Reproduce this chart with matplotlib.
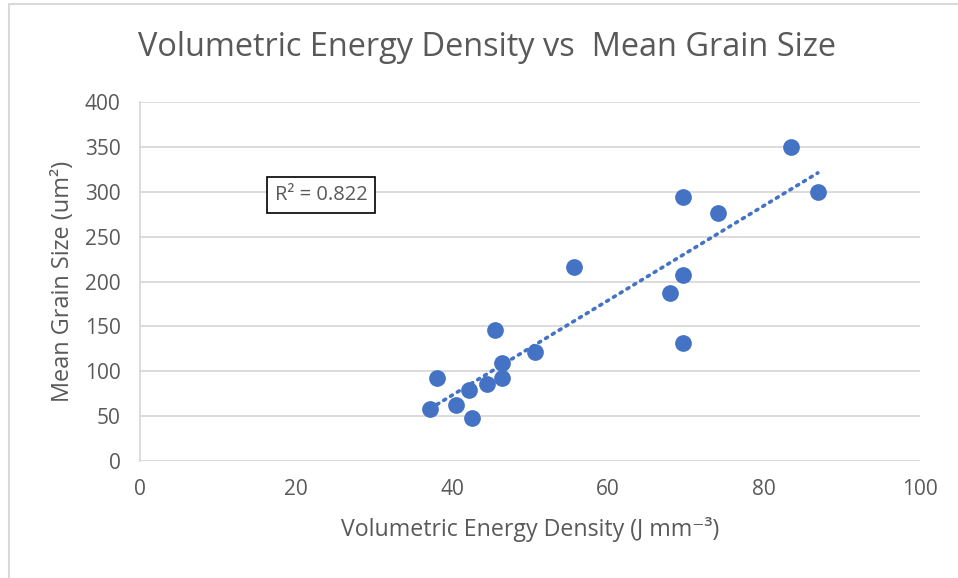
import numpy as np
import matplotlib
matplotlib.use('Agg')
import matplotlib.pyplot as plt
from matplotlib.patches import Rectangle

# energy density (J mm^-3) vs mean grain size (um^2)
energy = [37.2, 38.1, 40.5, 42.2, 42.6, 44.5, 45.5, 46.4, 46.4, 50.6,
          55.6, 67.9, 69.6, 69.6, 69.6, 74.1, 83.5, 86.9]
grain = [58, 92, 62, 79, 48, 86, 146, 109, 92, 121,
         216, 187, 294, 207, 131, 276, 350, 300]
x_ticks = [0, 20, 40, 60, 80, 100]
y_ticks = [0, 50, 100, 150, 200, 250, 300, 350, 400]

blue = '#4472C4'
grey = '#595959'
plt.rcParams['font.family'] = ['Open Sans', 'DejaVu Sans']

fig = plt.figure(figsize=(9.58, 5.78), dpi=100)
fig.patches.append(Rectangle((9/958, -0.1), 1.1, (578-4)/578 + 0.1, transform=fig.transFigure,
                             fill=False, edgecolor='#d9d9d9', linewidth=1.5))
ax = fig.add_axes([140/958, 117/578, 780/958, 359/578])

ax.scatter(energy, grain, s=145, color=blue, zorder=3, linewidths=0)

# linear trendline
m, b = np.polyfit(energy, grain, 1)
xs = np.array([min(energy), max(energy)])
ax.plot(xs, m*xs + b, color=blue, linewidth=2.6, linestyle=(0, (0.6, 1.6)),
        dash_capstyle='round', zorder=2)

ax.text(23.2, 296, 'R² = 0.822', fontsize=14.5, color=grey, ha='center', va='center',
        bbox=dict(boxstyle='square,pad=0.4', facecolor='white', edgecolor='black', linewidth=1.2),
        zorder=4)

ax.set_xlim(0, 100)
ax.set_ylim(0, 400)
ax.set_xticks(x_ticks)
ax.set_yticks(y_ticks)
ax.grid(axis='y', color='#d9d9d9', linewidth=1.3)
ax.set_axisbelow(True)
for s in ['top', 'right', 'bottom']:
    ax.spines[s].set_visible(False)
ax.spines['left'].set_color('#d9d9d9')
ax.spines['left'].set_linewidth(1.3)
ax.tick_params(length=0, labelsize=15, labelcolor=grey)
ax.tick_params(axis='x', pad=13)
ax.tick_params(axis='y', pad=14)

ax.set_xlabel('Volumetric Energy Density (J mm⁻³)', fontsize=16.7, color=grey)
ax.set_ylabel('Mean Grain Size (um²)', fontsize=16.9, color=grey)
ax.xaxis.set_label_coords(0.5, (461 - 517) / 359)
ax.yaxis.set_label_coords((75 - 140) / 780, 0.5)
fig.text(487/958, 1 - 47/578, 'Volumetric Energy Density vs  Mean Grain Size', fontsize=23.4,
         color=grey, ha='center', va='center')

plt.savefig('out.png', dpi=100)
